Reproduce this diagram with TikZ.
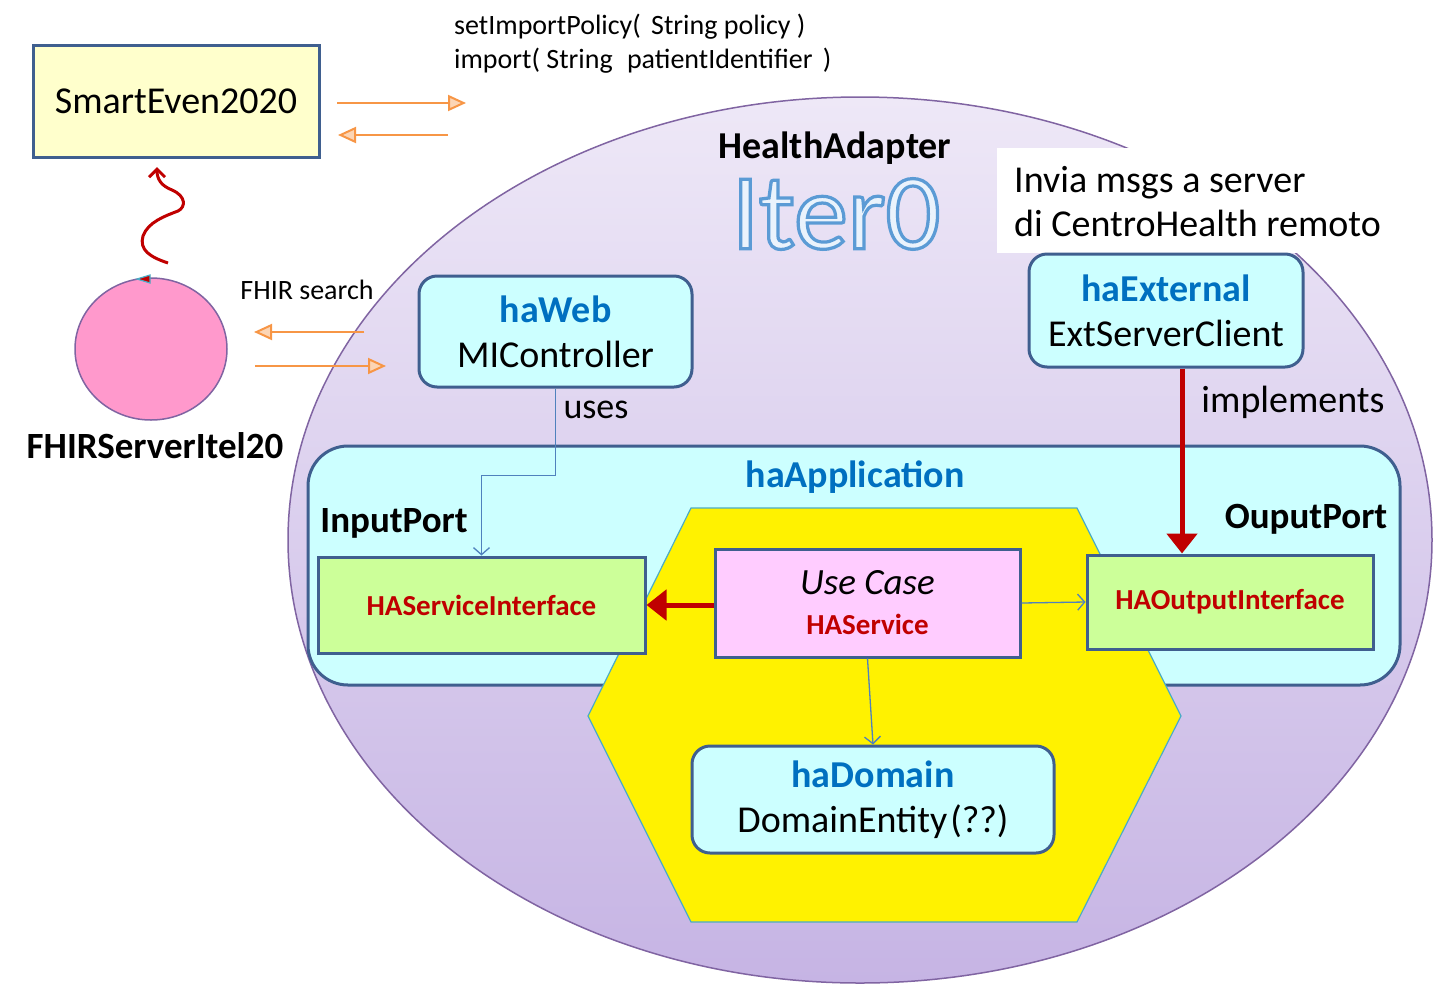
\documentclass[tikz,border=0pt]{standalone}
\usepackage{fontspec}
\setmainfont{Carlito}
\newfontfamily\iterfont[FakeBold=3]{Carlito}
\usetikzlibrary{arrows.meta,shapes.geometric,calc}
\definecolor{bxborder}{HTML}{3F5F8F}
\definecolor{hapurple}{HTML}{8064A2}
\definecolor{hatop}{HTML}{EEE8F7}
\definecolor{habot}{HTML}{C6B4E4}
\definecolor{cyanfill}{HTML}{CCFFFF}
\definecolor{yellowbox}{HTML}{FFFFCC}
\definecolor{greenbox}{HTML}{CCFF99}
\definecolor{pinkbox}{HTML}{FFCCFF}
\definecolor{circfill}{HTML}{FF99CC}
\definecolor{darkred}{HTML}{C00000}
\definecolor{pkgblue}{HTML}{0070C0}
\definecolor{lineblue}{HTML}{4F81BD}
\definecolor{orangeline}{HTML}{F79646}
\definecolor{orangefill}{HTML}{FCD5B5}
\definecolor{hexborder}{HTML}{4BACC6}
\definecolor{iterfill}{HTML}{EAF3FC}
\newcommand{\fsz}[2]{\fontsize{#1}{#2}\selectfont}
\begin{document}
\begin{tikzpicture}[x=1pt,y=-1pt,
  sqbox/.style={draw=bxborder,line width=3pt,inner sep=0pt,align=center},
  rbox/.style={sqbox,fill=cyanfill,rounded corners=18pt,font=\fsz{38}{45}},
  lbl/.style={inner sep=0pt,align=left},
  orarrow/.style={draw=orangeline,line width=2pt,-{Triangle[length=18pt,width=16pt,fill=orangefill]}},
  redarrow/.style={draw=darkred,line width=5pt,-{Triangle[length=20pt,width=30pt]}},
  bluearrow/.style={draw=lineblue,line width=1.3pt,-{Straight Barb[length=7pt,width=16pt]}}]
\useasboundingbox (0,0) rectangle (1441,994);

% big ellipse
\node[ellipse,draw=hapurple,line width=1.5pt,top color=hatop,bottom color=habot,
      minimum width=1144pt,minimum height=886pt,inner sep=0pt] (ha) at (860,540) {};

% white label box
\node[fill=white,minimum width=444pt,minimum height=105pt,inner sep=0pt] (note) at (1219,200.5) {};
\node[lbl,anchor=west,font=\fsz{38}{44}] (notetxt) at (1014,202) {Invia msgs a server\\di CentroHealth remoto};

% SmartEven box
\node[sqbox,fill=yellowbox,minimum width=286pt,minimum height=112pt,font=\fsz{38}{44}] (smart) at (176,101) {SmartEven2020};

% method text
\node[lbl,anchor=west,font=\fsz{28}{34}] (m1) at (454,27) {setImportPolicy(\hspace{4pt} String policy )};
\node[lbl,anchor=west,font=\fsz{28}{34}] (m2) at (454,61) {import( String\hspace{8pt} patientIdentifier\hspace{4pt} )};

% orange arrows near SmartEven
\coordinate (o1s) at (337,103); \coordinate (o1e) at (466,103);
\coordinate (o2s) at (448,135); \coordinate (o2e) at (338,135);
\draw[orarrow] (o1s) -- (o1e);
\draw[orarrow] (o2s) -- (o2e);

% FHIR server circle
\node[ellipse,draw=hapurple,line width=1.5pt,fill=circfill,minimum width=152pt,minimum height=142pt,inner sep=0pt] (fhir) at (151,349) {};
\node[lbl,font=\fsz{37}{40}\bfseries] (fhirlbl) at (155,446) {FHIRServerItel20};
\fill[darkred,draw=hexborder,line width=1.2pt] (137,279) -- (150,275) -- (150,283) -- cycle;

% red squiggle
\coordinate (sq0) at (168,263);
\coordinate (sq1) at (157,167);
\draw[draw=darkred,line width=3pt,-{Straight Barb[length=8pt,width=16pt]}]
  (sq0) .. controls (150,257) and (139,250) .. (143,236)
  .. controls (148,222) and (165,216) .. (178,211)
  .. controls (186,207) and (186,196) .. (172,190)
  .. controls (162,186) and (157,180) .. (sq1);

% FHIR search
\node[lbl,font=\fsz{28}{32}] (fhirs) at (307,290) {FHIR search};
\coordinate (o3s) at (364,332); \coordinate (o3e) at (254,332);
\coordinate (o4s) at (255,366); \coordinate (o4e) at (386,366);
\draw[orarrow] (o3s) -- (o3e);
\draw[orarrow] (o4s) -- (o4e);

% HealthAdapter title
\node[lbl,font=\fsz{38}{40}\bfseries] (hat) at (835,148) {HealthAdapter};
\node[lbl] (iter) at (836,214) {\fsz{108}{108}\iterfont\color{iterfill}\special{pdf:code 0.357 0.608 0.835 RG}Iter0};

% haApplication
\node[sqbox,fill=cyanfill,rounded corners=40pt,minimum width=1092pt,minimum height=239pt] (app) at (854,565.5) {};
\node[lbl,text=pkgblue,font=\fsz{38}{40}\bfseries] (applbl) at (855,477) {haApplication};
\node[lbl,font=\fsz{37}{40}\bfseries] (inport) at (394,523) {InputPort};
\node[lbl,font=\fsz{37}{40}\bfseries] (outport) at (1306,519) {OuputPort};

% hexagon
\draw[draw=hexborder,line width=1.2pt,fill=yellow]
  (691,508) -- (1077,508) -- (1181,716) -- (1077,922) -- (691,922) -- (588,716) -- cycle;

% haWeb
\node[rbox,minimum width=273pt,minimum height=111pt] (web) at (555.5,331.5)
  {\color{pkgblue}\bfseries haWeb\\MIController};
% haExternal
\node[rbox,minimum width=274pt,minimum height=113pt] (ext) at (1166,310.5)
  {\color{pkgblue}\bfseries haExternal\\ExtServerClient};

% ports
\node[sqbox,fill=greenbox,minimum width=327pt,minimum height=96pt,font=\fsz{29}{32}\bfseries,text=darkred] (hsi) at (481.5,605)
  {HAServiceInterface};
\node[sqbox,fill=greenbox,minimum width=286pt,minimum height=94pt,font=\fsz{29}{32}\bfseries,text=darkred] (hoi) at (1230,602)
  {HAOutputInterface};
\node[sqbox,fill=pinkbox,minimum width=305pt,minimum height=108pt,font=\fsz{37}{40}] (uc) at (867.5,603)
  {\itshape Use Case\\\fsz{29}{40}\color{darkred}\bfseries HAService};

% haDomain
\node[rbox,minimum width=362pt,minimum height=107pt] (dom) at (873,799.5)
  {\color{pkgblue}\bfseries haDomain\\DomainEntity\hspace{3pt}(??)};

% connectors
\draw[bluearrow] (web.south) -- ++(0,87) -| (hsi.north);
\node[lbl,font=\fsz{36}{40}] (uses) at (596,410) {uses};
\draw[redarrow] ([xshift=16pt]ext.south) -- ([xshift=16pt]ext.south |- hoi.north);
\node[lbl,font=\fsz{38}{40}] (impl) at (1293,402) {implements};
\draw[redarrow] (uc.west |- hsi.east) -- (hsi.east);
\draw[bluearrow] (uc.east) -- (hoi.west);
\draw[bluearrow] (uc.south) -- (dom.north);
\end{tikzpicture}
\end{document}
